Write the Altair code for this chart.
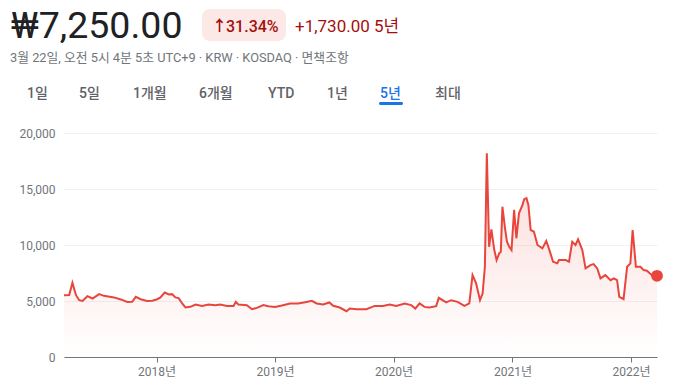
import altair as alt
import pandas as pd

# ---- data -------------------------------------------------------------
dates = [
    "2017-03-22", "2017-04-07", "2017-04-17", "2017-04-28", "2017-05-08", "2017-05-18",
    "2017-06-02", "2017-06-18", "2017-07-08", "2017-07-23", "2017-08-23", "2017-09-13",
    "2017-10-03", "2017-10-18", "2017-10-29", "2017-11-13", "2017-12-03", "2017-12-19",
    "2018-01-03", "2018-01-13", "2018-01-26", "2018-02-08", "2018-02-18", "2018-02-28",
    "2018-03-10", "2018-03-21", "2018-03-31", "2018-04-15", "2018-05-01", "2018-05-21",
    "2018-06-10", "2018-07-01", "2018-07-16", "2018-08-06", "2018-08-26", "2018-09-02",
    "2018-09-10", "2018-10-06", "2018-10-22", "2018-11-06", "2018-11-26", "2018-12-11",
    "2019-01-01", "2019-01-22", "2019-02-16", "2019-03-13", "2019-04-08", "2019-04-24",
    "2019-05-09", "2019-05-29", "2019-06-17", "2019-06-29", "2019-07-19", "2019-08-09",
    "2019-08-19", "2019-09-09", "2019-10-09", "2019-11-04", "2019-11-29", "2019-12-20",
    "2020-01-09", "2020-02-04", "2020-02-24", "2020-03-08", "2020-03-21", "2020-04-05",
    "2020-04-20", "2020-05-11", "2020-05-19", "2020-06-11", "2020-06-26", "2020-07-16",
    "2020-08-06", "2020-08-21", "2020-08-31", "2020-09-11", "2020-09-23", "2020-10-01",
    "2020-10-08", "2020-10-14", "2020-10-21", "2020-10-28", "2020-11-06", "2020-11-13",
    "2020-11-21", "2020-11-26", "2020-12-01", "2020-12-09", "2020-12-15", "2020-12-22",
    "2020-12-29", "2021-01-06", "2021-01-13", "2021-01-21", "2021-02-01", "2021-02-06",
    "2021-02-13", "2021-02-19", "2021-02-26", "2021-03-08", "2021-03-19", "2021-04-03",
    "2021-04-15", "2021-04-23", "2021-05-06", "2021-05-19", "2021-05-24", "2021-06-14",
    "2021-06-24", "2021-07-04", "2021-07-14", "2021-07-22", "2021-08-04", "2021-08-14",
    "2021-08-29", "2021-09-08", "2021-09-19", "2021-09-29", "2021-10-14", "2021-10-30",
    "2021-11-09", "2021-11-19", "2021-11-26", "2021-12-09", "2021-12-20", "2021-12-30",
    "2022-01-06", "2022-01-16", "2022-01-30", "2022-02-09", "2022-02-19", "2022-03-06",
    "2022-03-22",
]
prices = [
    5520, 5530, 6620, 5520, 5070, 5010,
    5430, 5220, 5610, 5460, 5320, 5140,
    4920, 4930, 5370, 5160, 5010, 5020,
    5160, 5320, 5760, 5580, 5610, 5320,
    5260, 4780, 4420, 4480, 4690, 4560,
    4690, 4620, 4690, 4560, 4560, 4920,
    4690, 4620, 4270, 4385, 4630, 4540,
    4475, 4600, 4780, 4780, 4920, 5010,
    4780, 4690, 4870, 4570, 4420, 4090,
    4330, 4270, 4270, 4560, 4560, 4690,
    4560, 4780, 4630, 4330, 4780, 4475,
    4420, 4540, 5280, 4870, 5070, 4920,
    4560, 4780, 7310, 6570, 5070, 5670,
    8060, 18200, 9840, 11400, 9550, 8650,
    9250, 9400, 13420, 11490, 10290, 9840,
    9550, 13130, 10600, 12830, 13580, 14090,
    14180, 13580, 11340, 11190, 10000, 9700,
    10360, 9700, 8500, 8360, 8650, 8650,
    8500, 10290, 10000, 10510, 9550, 7910,
    8200, 8290, 7910, 7020, 7310, 6860,
    7020, 6860, 5370, 5160, 8060, 8360,
    11340, 8060, 8060, 7760, 7700, 7310,
    7250,
]
y_ticks = [0, 5000, 10000, 15000, 20000]
tabs = ["1일", "5일", "1개월", "6개월", "YTD", "1년", "5년", "최대"]
tab_x = [-37, 15, 69, 135, 204, 263, 316, 371]

df = pd.DataFrame({"date": pd.to_datetime(dates), "price": prices})
last = df.tail(1)

RED = "#e8453c"
FONT = "Roboto, 'Noto Sans CJK KR', sans-serif"

x_enc = alt.X(
    "date:T",
    scale=alt.Scale(domain=[dates[0], dates[-1]], nice=False),
    axis=alt.Axis(format="%Y년", tickCount="year", title=None, grid=False,
                  domainColor="#70757a", tickColor="#70757a", tickSize=5,
                  labelColor="#70757a", labelFontSize=12, labelPadding=4,
                  labelFont=FONT),
)
y_enc = alt.Y(
    "price:Q",
    scale=alt.Scale(domain=[0, 20000], nice=False),
    axis=alt.Axis(values=y_ticks, format=",d", title=None, domain=False,
                  ticks=False, tickSize=0, labelPadding=9, gridColor="#f1f1f1",
                  labelColor="#70757a", labelFontSize=12, labelFont=FONT),
)

base = alt.Chart(df)

area = base.mark_area(
    line=False,
    color=alt.Gradient(
        gradient="linear",
        stops=[alt.GradientStop(color="rgba(234,67,53,0.20)", offset=0),
               alt.GradientStop(color="rgba(234,67,53,0.0)", offset=1)],
        x1=0, x2=0, y1=0, y2=1,
    ),
).encode(x=x_enc, y=y_enc)

line = base.mark_line(color=RED, strokeWidth=2).encode(x="date:T", y="price:Q")

dot = alt.Chart(last).mark_circle(color=RED, size=140, opacity=1).encode(
    x="date:T", y="price:Q")

one = alt.Data(values=[{}])


def label(text, x, y, size, color, weight="normal"):
    return alt.Chart(one).mark_text(
        text=text, align="left", baseline="alphabetic", fontSize=size,
        color=color, font=FONT, fontWeight=weight,
    ).encode(x=alt.value(x), y=alt.value(y))


layers = [area, line, dot]

layers.append(label("₩7,250.00", -53, -95, 37.5, "#202124"))
layers.append(alt.Chart(one).mark_rect(color="#fce8e6", cornerRadius=8).encode(
    x=alt.value(138), x2=alt.value(222), y=alt.value(-124), y2=alt.value(-92)))
layers.append(label("↑", 148, -102, 15, "#a50e0e", "bold"))
layers.append(label("31.34%", 162, -101, 16, "#a50e0e", 500))
layers.append(label("+1,730.00 5년", 231, -101, 17, "#a50e0e"))
layers.append(label("3월 22일, 오전 5시 4분 5초 UTC+9 · KRW · KOSDAQ · 면책조항",
                    -54, -71, 12.8, "#70757a"))
for t, xx in zip(tabs, tab_x):
    layers.append(label(t, xx, -35, 14, "#1a73e8" if t == "5년" else "#5f6368", 500))
layers.append(alt.Chart(one).mark_rect(color="#1a73e8", cornerRadius=1.5).encode(
    x=alt.value(315), x2=alt.value(339), y=alt.value(-31), y2=alt.value(-28)))

chart = alt.layer(*layers).properties(
    width=593, height=224,
    autosize=alt.AutoSizeParams(type="none"),
    padding={"left": 56, "top": 125, "right": 14, "bottom": 23},
    background="white",
).configure_view(stroke=None)

chart.save("out.html", embed_options={"renderer": "svg", "actions": False})
